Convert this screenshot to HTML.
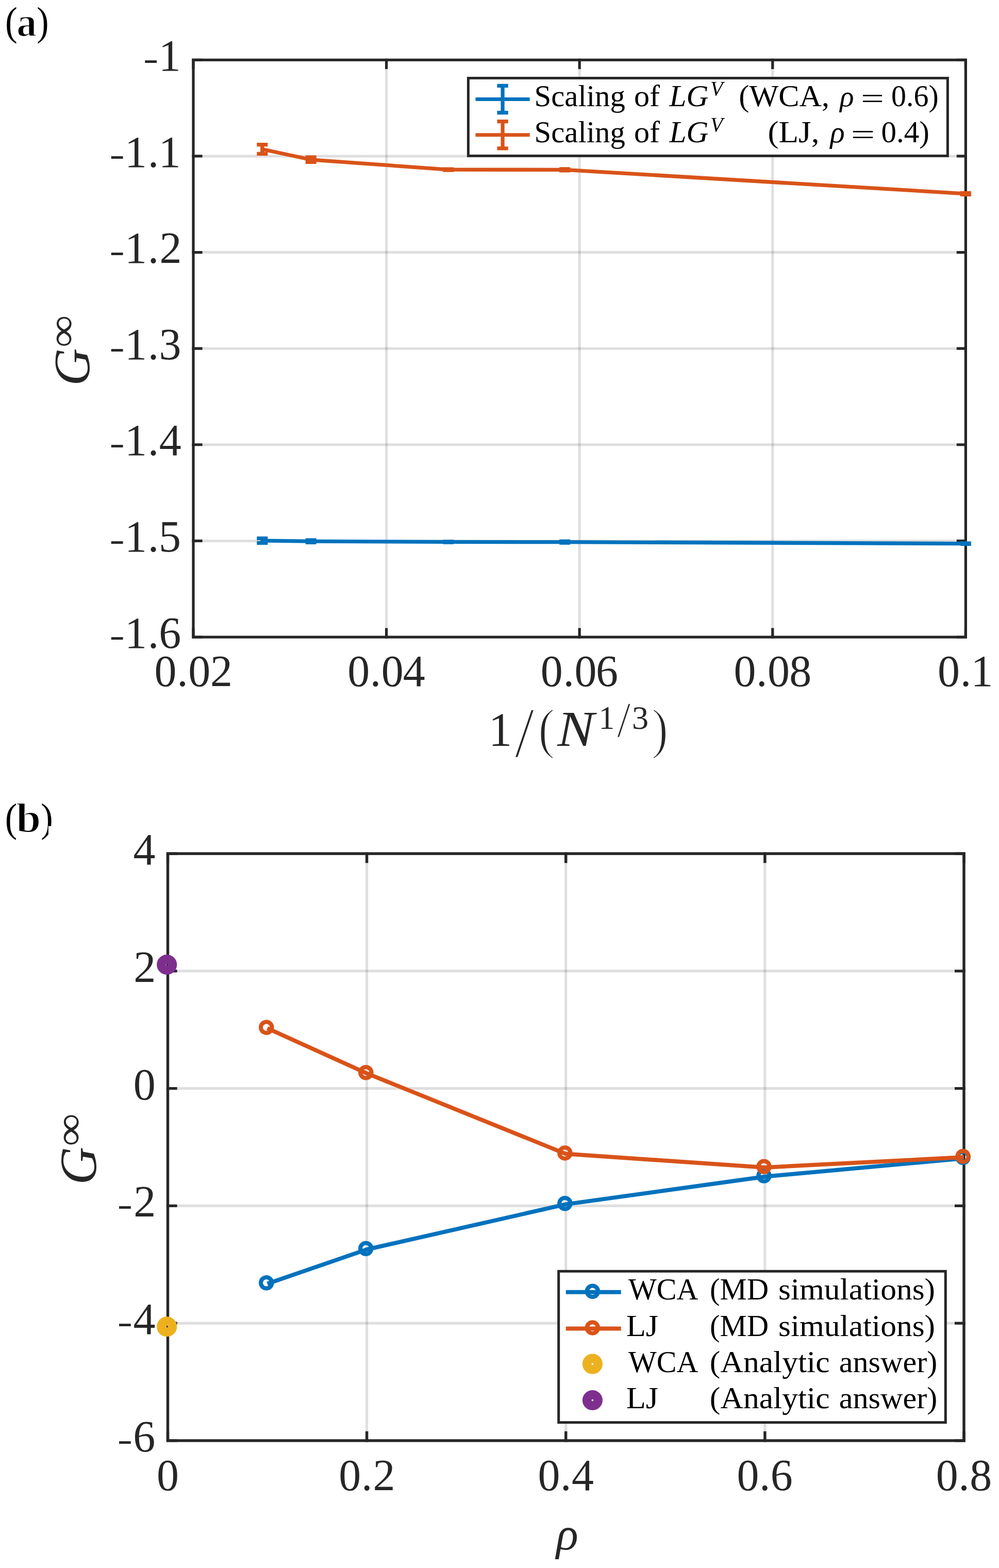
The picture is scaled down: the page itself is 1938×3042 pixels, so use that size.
<!DOCTYPE html>
<html lang="en"><head><meta charset="utf-8"><title>Figure: G-infinity scaling and density dependence</title>
<style>
html,body{margin:0;padding:0;background:#fff;}
body{width:1938px;height:3042px;overflow:hidden;}
svg{display:block;}
text{font-family:"Liberation Serif",serif;font-kerning:none;font-variant-ligatures:none;white-space:pre;}
</style></head><body>
<svg width="1938" height="3042" viewBox="0 0 1938 3042" role="img" aria-label="Two-panel figure: (a) finite-size scaling of G-infinity versus 1/N^(1/3); (b) G-infinity versus density rho for WCA and LJ fluids">
<rect width="1938" height="3042" fill="#fff"/>
<g id="panel-a">
<path d="M749.6 116.3V1236M1124.2 116.3V1236M1498.8 116.3V1236" stroke="rgba(38,38,38,0.15)" stroke-width="5" fill="none"/>
<path d="M375 302.92H1873.4M375 489.53H1873.4M375 676.15H1873.4M375 862.77H1873.4M375 1049.38H1873.4" stroke="rgba(38,38,38,0.15)" stroke-width="5" fill="none"/>
<path d="M375 1236v-15M375 116.3v15M749.6 1236v-15M749.6 116.3v15M1124.2 1236v-15M1124.2 116.3v15M1498.8 1236v-15M1498.8 116.3v15M1873.4 1236v-15M1873.4 116.3v15M375 116.3h15M1873.4 116.3h-15M375 302.92h15M1873.4 302.92h-15M375 489.53h15M1873.4 489.53h-15M375 676.15h15M1873.4 676.15h-15M375 862.77h15M1873.4 862.77h-15M375 1049.38h15M1873.4 1049.38h-15M375 1236h15M1873.4 1236h-15" stroke="#262626" stroke-width="5.2" stroke-linecap="square" fill="none"/>
<rect x="375" y="116.3" width="1498.4" height="1119.7" stroke="#262626" stroke-width="5.2" fill="none"/>
<path d="M508.8 1048.9L603.2 1050.1L869.8 1051.4L1095.7 1051.6L1873.4 1054.6" stroke="#0072BD" stroke-width="7.3" fill="none" stroke-linejoin="round"/>
<path d="M508.8 1044.4V1053.4M498.3 1044.4h21M498.3 1053.4h21M603.2 1047.8V1052.4M592.7 1047.8h21M592.7 1052.4h21M869.8 1050.6V1052.2M859.3 1050.6h21M859.3 1052.2h21M1095.7 1050.2V1053M1085.2 1050.2h21M1085.2 1053h21M1873.4 1053.8V1055.4M1862.9 1053.8h21M1862.9 1055.4h21" stroke="#0072BD" stroke-width="7.3" fill="none"/>
<path d="M508.8 289.5L603.2 309.8L869.8 329.1L1095.7 329.3L1873.4 375.8" stroke="#D95319" stroke-width="7.3" fill="none" stroke-linejoin="round"/>
<path d="M508.8 280.55V298.45M498.3 280.55h21M498.3 298.45h21M603.2 305.25V314.35M592.7 305.25h21M592.7 314.35h21M869.8 328.1V330.1M859.3 328.1h21M859.3 330.1h21M1095.7 327.8V330.8M1085.2 327.8h21M1085.2 330.8h21M1873.4 374.3V377.3M1862.9 374.3h21M1862.9 377.3h21" stroke="#D95319" stroke-width="7.3" fill="none"/>
<text fill="#262626"><tspan x="299.6 343.17 365.25 407.88" y="1331.3" font-size="86">0.02</tspan></text>
<text fill="#262626"><tspan x="674.2 717.77 739.85 781.83" y="1331.3" font-size="86">0.04</tspan></text>
<text fill="#262626"><tspan x="1048.8 1092.38 1114.45 1156.03" y="1331.3" font-size="86">0.06</tspan></text>
<text fill="#262626"><tspan x="1423.4 1466.98 1489.05 1531.2" y="1331.3" font-size="86">0.08</tspan></text>
<text fill="#262626"><tspan x="1819.08 1862.65 1883.53" y="1331.3" font-size="86">0.1</tspan></text>
<text fill="#262626"><tspan x="278.09" y="134.7" font-size="65.59" textLength="29.23" lengthAdjust="spacingAndGlyphs">-</tspan><tspan x="307.73" y="136.9" font-size="86">1</tspan></text>
<text fill="#262626"><tspan x="212.44" y="321.32" font-size="65.59" textLength="29.23" lengthAdjust="spacingAndGlyphs">-</tspan><tspan x="242.08 286.85 307.73" y="323.52" font-size="86">1.1</tspan></text>
<text fill="#262626"><tspan x="212.44" y="507.94" font-size="65.59" textLength="29.23" lengthAdjust="spacingAndGlyphs">-</tspan><tspan x="242.08 286.85 309.41" y="510.13" font-size="86">1.2</tspan></text>
<text fill="#262626"><tspan x="212.44" y="694.55" font-size="65.59" textLength="29.23" lengthAdjust="spacingAndGlyphs">-</tspan><tspan x="242.08 286.85 308.55" y="696.75" font-size="86">1.3</tspan></text>
<text fill="#262626"><tspan x="212.44" y="881.17" font-size="65.59" textLength="29.23" lengthAdjust="spacingAndGlyphs">-</tspan><tspan x="242.08 286.85 308.76" y="883.37" font-size="86">1.4</tspan></text>
<text fill="#262626"><tspan x="212.44" y="1067.79" font-size="65.59" textLength="29.23" lengthAdjust="spacingAndGlyphs">-</tspan><tspan x="242.08 286.85 308.11" y="1069.98" font-size="86">1.5</tspan></text>
<text fill="#262626"><tspan x="212.44" y="1254.4" font-size="65.59" textLength="29.23" lengthAdjust="spacingAndGlyphs">-</tspan><tspan x="242.08 286.85 308.36" y="1256.6" font-size="86">1.6</tspan></text>
<text fill="#262626"><tspan x="947.69" y="1447.4" font-size="93.61" textLength="45.59" lengthAdjust="spacingAndGlyphs">1</tspan><tspan x="998.2" y="1468.94" font-size="139.47" textLength="38.4" lengthAdjust="spacingAndGlyphs" stroke="#fff" stroke-width="2.6" paint-order="fill stroke">/</tspan><tspan x="1044.19" y="1449.68" font-size="107.2" textLength="31.9" lengthAdjust="spacingAndGlyphs" stroke="#fff" stroke-width="2.4" paint-order="fill stroke">(</tspan><tspan x="1081.19" y="1447.4" font-size="96.83" textLength="71.63" lengthAdjust="spacingAndGlyphs" font-style="italic">N</tspan><tspan x="1161.48" y="1413.5" font-size="63.32" textLength="30.82" lengthAdjust="spacingAndGlyphs">1</tspan><tspan x="1196.9" y="1428.94" font-size="97.92" textLength="26.4" lengthAdjust="spacingAndGlyphs" stroke="#fff" stroke-width="1.6" paint-order="fill stroke">/</tspan><tspan x="1225.92" y="1414.17" font-size="64.15" textLength="32.2" lengthAdjust="spacingAndGlyphs">3</tspan><tspan x="1264.31" y="1449.68" font-size="107.2" textLength="31.9" lengthAdjust="spacingAndGlyphs" stroke="#fff" stroke-width="2.4" paint-order="fill stroke">)</tspan></text>
<text transform="rotate(-90)" fill="#262626"><tspan x="-748.46" y="173.13" font-size="99.27" textLength="72.83" lengthAdjust="spacingAndGlyphs" font-style="italic">G</tspan><tspan x="-674.1" y="146.4" font-size="75.62" textLength="62.54" lengthAdjust="spacingAndGlyphs">∞</tspan></text>
<rect x="908.4" y="151.5" width="930" height="150.9" fill="#fff" stroke="#262626" stroke-width="5"/>
<path d="M922.5 192.5H1027.7M975.1 166.4V218.6M964.4 166.4h21.4M964.4 218.6h21.4" stroke="#0072BD" stroke-width="7.2" fill="none"/>
<path d="M922.5 261.75H1027.7M975.1 235.65V287.85M964.4 235.65h21.4M964.4 287.85h21.4" stroke="#D95319" stroke-width="7.2" fill="none"/>
<text fill="#000"><tspan x="1036.57" y="206.1" font-size="60" textLength="176.25" lengthAdjust="spacingAndGlyphs">Scaling</tspan> <tspan x="1229.91" y="206.1" font-size="60" textLength="50.19" lengthAdjust="spacingAndGlyphs">of</tspan> <tspan x="1298.6" y="206.1" font-size="60" textLength="75.88" lengthAdjust="spacingAndGlyphs" font-style="italic">LG</tspan><tspan x="1377.91" y="184.99" font-size="40" font-style="italic">V</tspan> <tspan x="1433.35" y="206.1" font-size="60" textLength="175.85" lengthAdjust="spacingAndGlyphs">(WCA,</tspan> <tspan x="1629.34" y="205.88" font-size="56.83" font-style="italic">ρ</tspan> <tspan x="1670.03" y="210.16" font-size="56.8" textLength="44.96" lengthAdjust="spacingAndGlyphs">=</tspan> <tspan x="1729.09" y="206.1" font-size="60" textLength="91.75" lengthAdjust="spacingAndGlyphs">0.6)</tspan></text>
<text fill="#000"><tspan x="1036.57" y="276" font-size="60" textLength="176.25" lengthAdjust="spacingAndGlyphs">Scaling</tspan> <tspan x="1229.91" y="276" font-size="60" textLength="50.19" lengthAdjust="spacingAndGlyphs">of</tspan> <tspan x="1298.6" y="276" font-size="60" textLength="75.88" lengthAdjust="spacingAndGlyphs" font-style="italic">LG</tspan><tspan x="1377.91" y="254.89" font-size="40" font-style="italic">V</tspan> <tspan x="1489.53" y="276" font-size="60" textLength="99.95" lengthAdjust="spacingAndGlyphs">(LJ,</tspan> <tspan x="1610.49" y="276.03" font-size="58.72" font-style="italic">ρ</tspan> <tspan x="1650.7" y="280.06" font-size="56.8" textLength="46.42" lengthAdjust="spacingAndGlyphs">=</tspan> <tspan x="1709.55" y="276" font-size="60" textLength="93.34" lengthAdjust="spacingAndGlyphs">0.4)</tspan></text>
<text fill="#000"><tspan x="10.07" y="68.39" font-size="77.53" textLength="23.73" lengthAdjust="spacingAndGlyphs">(</tspan><tspan x="32.19" y="70.42" font-size="80.38" textLength="38.99" lengthAdjust="spacingAndGlyphs" stroke="#fff" stroke-width="1.8" paint-order="fill stroke" font-weight="bold">a</tspan><tspan x="71.24" y="68.39" font-size="77.53" textLength="23.34" lengthAdjust="spacingAndGlyphs">)</tspan></text>
</g>
<g id="panel-b">
<path d="M711.62 1656.1V2794.9M1097.75 1656.1V2794.9M1483.88 1656.1V2794.9" stroke="rgba(38,38,38,0.15)" stroke-width="5.1" fill="none"/>
<path d="M325.5 1883.86H1870M325.5 2111.62H1870M325.5 2339.38H1870M325.5 2567.14H1870" stroke="rgba(38,38,38,0.15)" stroke-width="5.1" fill="none"/>
<path d="M325.5 2794.9v-15.4M325.5 1656.1v15.4M711.62 2794.9v-15.4M711.62 1656.1v15.4M1097.75 2794.9v-15.4M1097.75 1656.1v15.4M1483.88 2794.9v-15.4M1483.88 1656.1v15.4M1870 2794.9v-15.4M1870 1656.1v15.4M325.5 1656.1h15.4M1870 1656.1h-15.4M325.5 1883.86h15.4M1870 1883.86h-15.4M325.5 2111.62h15.4M1870 2111.62h-15.4M325.5 2339.38h15.4M1870 2339.38h-15.4M325.5 2567.14h15.4M1870 2567.14h-15.4M325.5 2794.9h15.4M1870 2794.9h-15.4" stroke="#262626" stroke-width="5.4" stroke-linecap="square" fill="none"/>
<rect x="325.5" y="1656.1" width="1544.5" height="1138.8" stroke="#262626" stroke-width="5.4" fill="none"/>
<path d="M518.6 2490.5L711.6 2424L1097.75 2336.4L1483.9 2282.7L1870 2247.3" stroke="#0072BD" stroke-width="8.0" fill="none" stroke-linejoin="round"/>
<circle cx="516.75" cy="2488.8" r="10.75" stroke="#0072BD" stroke-width="8.0" fill="none"/>
<circle cx="709.75" cy="2422.3" r="10.75" stroke="#0072BD" stroke-width="8.0" fill="none"/>
<circle cx="1095.9" cy="2334.7" r="10.75" stroke="#0072BD" stroke-width="8.0" fill="none"/>
<circle cx="1482.05" cy="2281" r="10.75" stroke="#0072BD" stroke-width="8.0" fill="none"/>
<circle cx="1868.15" cy="2245.6" r="10.75" stroke="#0072BD" stroke-width="8.0" fill="none"/>
<path d="M518.6 1994.9L711.6 2082.4L1097.75 2238.6L1483.9 2264.9L1870 2245.1" stroke="#D95319" stroke-width="8.0" fill="none" stroke-linejoin="round"/>
<circle cx="516.75" cy="1993.2" r="10.75" stroke="#D95319" stroke-width="8.0" fill="none"/>
<circle cx="709.75" cy="2080.7" r="10.75" stroke="#D95319" stroke-width="8.0" fill="none"/>
<circle cx="1095.9" cy="2236.9" r="10.75" stroke="#D95319" stroke-width="8.0" fill="none"/>
<circle cx="1482.05" cy="2263.2" r="10.75" stroke="#D95319" stroke-width="8.0" fill="none"/>
<circle cx="1868.15" cy="2243.4" r="10.75" stroke="#D95319" stroke-width="8.0" fill="none"/>
<circle cx="323.7" cy="2573.7" r="10.7" stroke="#EDB120" stroke-width="17.7" fill="none"/>
<circle cx="323.7" cy="1871.5" r="10.7" stroke="#7E2F8E" stroke-width="17.7" fill="none"/>
<text fill="#262626"><tspan x="304" y="2891" font-size="86">0</tspan></text>
<text fill="#262626"><tspan x="657.3 700.88 723.43" y="2891" font-size="86">0.2</tspan></text>
<text fill="#262626"><tspan x="1043.42 1087 1108.91" y="2891" font-size="86">0.4</tspan></text>
<text fill="#262626"><tspan x="1429.55 1473.12 1494.63" y="2891" font-size="86">0.6</tspan></text>
<text fill="#262626"><tspan x="1815.67 1859.25 1881.33" y="2891" font-size="86">0.8</tspan></text>
<text fill="#262626"><tspan x="258.56" y="1677.1" font-size="86">4</tspan></text>
<text fill="#262626"><tspan x="259.21" y="1904.86" font-size="86">2</tspan></text>
<text fill="#262626"><tspan x="258.73" y="2132.62" font-size="86">0</tspan></text>
<text fill="#262626"><tspan x="227.89" y="2358.18" font-size="65.59" textLength="29.23" lengthAdjust="spacingAndGlyphs">-</tspan><tspan x="259.21" y="2360.38" font-size="86">2</tspan></text>
<text fill="#262626"><tspan x="227.89" y="2585.94" font-size="65.59" textLength="29.23" lengthAdjust="spacingAndGlyphs">-</tspan><tspan x="258.56" y="2588.14" font-size="86">4</tspan></text>
<text fill="#262626"><tspan x="227.89" y="2813.7" font-size="65.59" textLength="29.23" lengthAdjust="spacingAndGlyphs">-</tspan><tspan x="258.16" y="2815.9" font-size="86">6</tspan></text>
<text fill="#262626"><tspan x="1079.04" y="3005.82" font-size="89.13" font-style="italic">ρ</tspan></text>
<text transform="rotate(-90)" fill="#262626"><tspan x="-2298.52" y="187.11" font-size="101.06" textLength="73.5" lengthAdjust="spacingAndGlyphs" font-style="italic">G</tspan><tspan x="-2223.77" y="159.65" font-size="76.14" textLength="63.88" lengthAdjust="spacingAndGlyphs">∞</tspan></text>
<rect x="1083.7" y="2466.3" width="750.6" height="293.3" fill="#fff" stroke="#262626" stroke-width="5"/>
<path d="M1097.8 2506.8H1204.7" stroke="#0072BD" stroke-width="8.0" fill="none"/>
<circle cx="1149.4" cy="2505.2" r="10.75" stroke="#0072BD" stroke-width="8.0" fill="none"/>
<path d="M1097.8 2577.5H1204.7" stroke="#D95319" stroke-width="8.0" fill="none"/>
<circle cx="1149.4" cy="2575.9" r="10.75" stroke="#D95319" stroke-width="8.0" fill="none"/>
<circle cx="1149.4" cy="2646.1" r="10.7" stroke="#EDB120" stroke-width="17.7" fill="none"/>
<circle cx="1149.4" cy="2716.5" r="10.7" stroke="#7E2F8E" stroke-width="17.7" fill="none"/>
<text fill="#000"><tspan x="1219.04" y="2521.2" font-size="60" textLength="135.48" lengthAdjust="spacingAndGlyphs">WCA</tspan> <tspan x="1377.02" y="2521.2" font-size="60" textLength="114.03" lengthAdjust="spacingAndGlyphs">(MD</tspan> <tspan x="1509.98" y="2521.2" font-size="60" textLength="304.13" lengthAdjust="spacingAndGlyphs">simulations)</tspan></text>
<text fill="#000"><tspan x="1214.7" y="2592.1" font-size="60" textLength="62.51" lengthAdjust="spacingAndGlyphs">LJ</tspan> <tspan x="1377.02" y="2592.1" font-size="60" textLength="114.03" lengthAdjust="spacingAndGlyphs">(MD</tspan> <tspan x="1509.98" y="2592.1" font-size="60" textLength="304.13" lengthAdjust="spacingAndGlyphs">simulations)</tspan></text>
<text fill="#000"><tspan x="1219.04" y="2662" font-size="60" textLength="135.48" lengthAdjust="spacingAndGlyphs">WCA</tspan> <tspan x="1376.89" y="2662" font-size="60" textLength="232.7" lengthAdjust="spacingAndGlyphs">(Analytic</tspan> <tspan x="1627.78" y="2662" font-size="60" textLength="190.56" lengthAdjust="spacingAndGlyphs">answer)</tspan></text>
<text fill="#000"><tspan x="1214.7" y="2732.4" font-size="60" textLength="62.51" lengthAdjust="spacingAndGlyphs">LJ</tspan> <tspan x="1376.89" y="2732.4" font-size="60" textLength="232.7" lengthAdjust="spacingAndGlyphs">(Analytic</tspan> <tspan x="1627.78" y="2732.4" font-size="60" textLength="190.56" lengthAdjust="spacingAndGlyphs">answer)</tspan></text>
<text fill="#000"><tspan x="9.8" y="1612.52" font-size="77.42" textLength="23.47" lengthAdjust="spacingAndGlyphs">(</tspan><tspan x="31.2" y="1614.31" font-size="80.44" textLength="48.1" lengthAdjust="spacingAndGlyphs" stroke="#fff" stroke-width="1.8" paint-order="fill stroke" font-weight="bold">b</tspan><tspan x="79.33" y="1612.52" font-size="77.42" textLength="23.47" lengthAdjust="spacingAndGlyphs">)</tspan></text>
<rect x="93.9" y="1602.6" width="14" height="34" fill="#fff"/>
</g>
</svg>
</body></html>
